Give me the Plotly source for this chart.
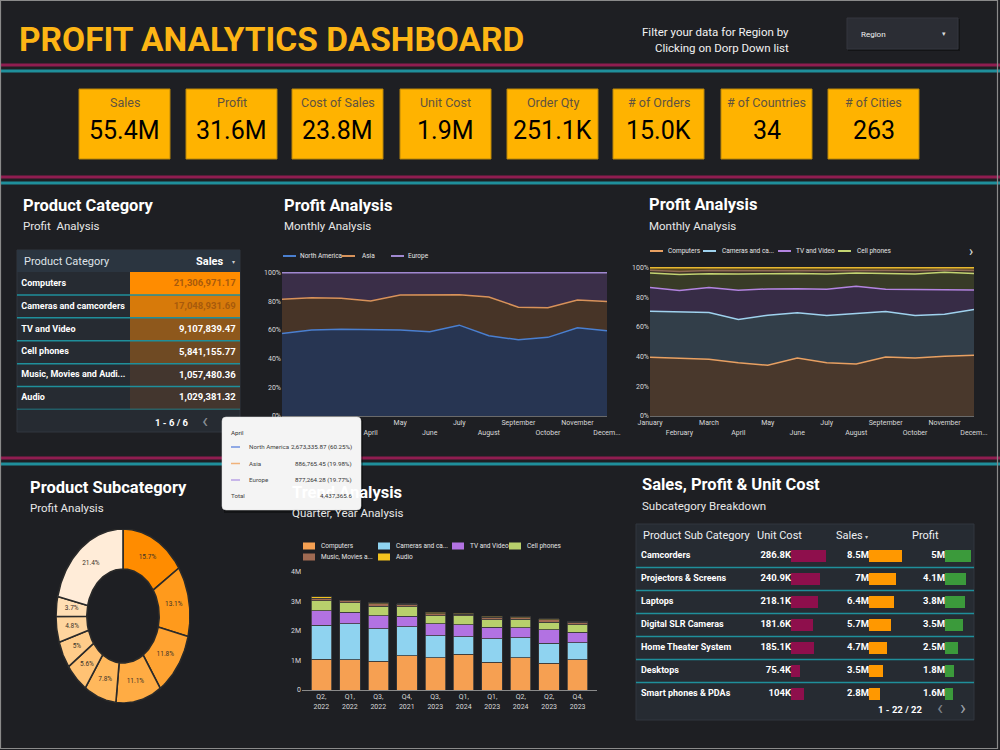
import math
import plotly.graph_objects as go

W, H = 1000, 750


def fx(x):
    return x / W


def fy(y):
    return 1 - y / H


BG = "#1e1f23"
FONT = "Roboto, Liberation Sans, Arial, sans-serif"
TEAL = "#1f8f9b"
MAGENTA = "#8f1d50"
TICK = "#d9d9d9"

# ---------------- DATA ----------------
kpi_labels = ["Sales", "Profit", "Cost of Sales", "Unit Cost", "Order Qty",
              "# of Orders", "# of Countries", "# of Cities"]
kpi_values = ["55.4M", "31.6M", "23.8M", "1.9M", "251.1K", "15.0K", "34", "263"]

category_names = ["Computers", "Cameras and camcorders", "TV and Video", "Cell phones",
                  "Music, Movies and Audio Books", "Audio"]
category_sales = [21306971.17, 17048931.69, 9107839.47, 5841155.77, 1057480.36, 1029381.32]

months = ["January", "February", "March", "April", "May", "June", "July",
          "August", "September", "October", "November", "December"]
month_tick_labels = ["January", "February", "March", "April", "May", "June", "July",
                     "August", "September", "October", "November", "Decem..."]

region_names = ["North America", "Asia", "Europe"]
north_america_share = [57.6, 60.0, 60.6, 60.25, 60.0, 58.8, 63.4, 56.0, 53.2, 54.9, 61.6, 59.5]
asia_share = [23.9, 22.6, 21.6, 19.98, 24.5, 25.9, 21.3, 27.1, 22.7, 20.6, 19.4, 20.4]
europe_share = [18.5, 17.4, 17.8, 19.77, 15.5, 15.3, 15.3, 16.9, 24.1, 24.5, 19.0, 20.1]

tooltip_month = "April"
tooltip_values = [2673335.87, 886765.45, 877264.28]

series_names = ["Computers", "Cameras and camcorders", "TV and Video", "Cell phones",
                "Music, Movies and Audio Books", "Audio"]
series_legend_labels = ["Computers", "Cameras and ca...", "TV and Video", "Cell phones",
                        "Music, Movies a...", "Audio"]
computers_share = [39.6, 38.7, 38.3, 36.0, 34.2, 39.1, 36.0, 35.1, 39.8, 39.1, 40.3, 40.9]
cameras_share = [31.1, 31.8, 31.5, 29.1, 33.8, 30.5, 31.8, 34.0, 30.7, 28.7, 28.4, 30.9]
tv_share = [15.9, 14.1, 16.8, 19.7, 17.7, 16.3, 17.7, 18.4, 15.0, 17.4, 16.5, 13.2]
cell_share = [9.8, 10.9, 9.4, 10.9, 10.3, 10.3, 10.2, 8.9, 10.7, 10.5, 11.7, 11.2]
music_share = [1.9, 2.0, 2.1, 2.2, 2.0, 1.8, 2.2, 1.7, 1.9, 2.2, 1.5, 1.9]
audio_share = [1.7, 2.5, 1.9, 2.1, 2.0, 2.0, 2.1, 1.9, 1.9, 2.1, 1.6, 1.9]

quarters = ["Q2, 2022", "Q1, 2022", "Q3, 2022", "Q4, 2021", "Q3, 2023",
            "Q1, 2024", "Q1, 2023", "Q2, 2024", "Q2, 2023", "Q4, 2023"]
trend_computers = [1.04, 1.03, 0.98, 1.16, 1.10, 1.21, 0.94, 1.10, 0.90, 1.03]
trend_cameras = [1.16, 1.21, 1.09, 0.99, 0.74, 0.59, 0.80, 0.67, 0.69, 0.57]
trend_tv = [0.49, 0.39, 0.45, 0.35, 0.40, 0.42, 0.39, 0.34, 0.45, 0.35]
trend_cell = [0.34, 0.33, 0.32, 0.33, 0.27, 0.29, 0.26, 0.29, 0.26, 0.27]
trend_music = [0.08, 0.06, 0.09, 0.07, 0.07, 0.05, 0.07, 0.05, 0.08, 0.07]
trend_audio = [0.05, 0.02, 0.03, 0.03, 0.05, 0.04, 0.04, 0.03, 0.04, 0.03]

donut_names = ["Camcorders", "Projectors & Screens", "Laptops", "Digital SLR Cameras",
               "Home Theater System", "Desktops", "Smart phones & PDAs", "Televisions",
               "Car Video", "Others"]
donut_share = [15.7, 13.1, 11.8, 11.1, 7.8, 5.6, 5.0, 4.8, 3.7, 21.4]

sub_names = ["Camcorders", "Projectors & Screens", "Laptops", "Digital SLR Cameras",
             "Home Theater System", "Desktops", "Smart phones & PDAs"]
sub_unit_cost = [286800, 240900, 218100, 181600, 185100, 75400, 104000]
sub_sales = [8.5e6, 7.0e6, 6.4e6, 5.7e6, 4.7e6, 3.5e6, 2.8e6]
sub_profit = [5.0e6, 4.1e6, 3.8e6, 3.5e6, 2.5e6, 1.8e6, 1.6e6]

# ---------------- STYLES ----------------
region_fill = ["rgba(40,55,85,0.95)", "rgba(74,54,40,0.95)", "rgba(60,47,75,0.95)"]
region_line = ["#4a7fd0", "#d8925a", "#a088d0"]
series_fill = ["rgba(76,58,45,0.95)", "rgba(52,64,76,0.95)", "rgba(57,45,73,0.95)",
               "rgba(58,61,40,0.95)", "rgba(62,48,40,0.95)", "rgba(92,74,26,0.95)"]
series_line = ["#e8a062", "#9fd2ee", "#b384e0", "#c3d472", "#8f6a55", "#e8b830"]
bar_colors = ["#f6a052", "#8fd3f0", "#b272e2", "#b8d06c", "#a06a52", "#f2c21e"]
donut_colors = ["#ff8c00", "#ff9a1c", "#ffa332", "#ffac44", "#ffb85c", "#ffc274",
                "#ffcc8a", "#ffd59e", "#ffdeb4", "#ffecd8"]

fig = go.Figure()
shapes = []
ann = []


def text(x, y, s, size, color="#ffffff", anchor="left", bold=False, family=FONT):
    ann.append(dict(x=fx(x), y=fy(y), xref="paper", yref="paper",
                    text=f"<b>{s}</b>" if bold else s, showarrow=False,
                    xanchor=anchor, yanchor="middle",
                    font=dict(size=size, color=color, family=family)))


def rect(x0, y0, x1, y1, fill, line=None, lw=0, layer="below"):
    shapes.append(dict(type="rect", xref="paper", yref="paper",
                       x0=fx(x0), x1=fx(x1), y0=fy(y0), y1=fy(y1),
                       fillcolor=fill, line=dict(color=line or fill, width=lw), layer=layer))


def hline(x0, x1, y, color, width, layer="below"):
    shapes.append(dict(type="line", xref="paper", yref="paper",
                       x0=fx(x0), x1=fx(x1), y0=fy(y), y1=fy(y),
                       line=dict(color=color, width=width), layer=layer))


# ---------------- HEADER ----------------
text(17, 39, "PROFIT ANALYTICS DASHBOARD", 33.5, "#fdb515", bold=True)
text(791, 32, "Filter your data for Region by", 11.5, "#f2f2f2", anchor="right")
text(791, 48, "Clicking on Dorp Down list", 11.5, "#f2f2f2", anchor="right")
rect(848, 19, 960, 51, "rgba(0,0,0,0.35)")
rect(847, 18, 958, 49, "#2b2d34", "#34363e", 1)
text(859, 34, "Region", 8, "#f0f0f0")
text(944, 34, "▾", 7, "#dddddd", anchor="center")

for ym, yt in [(65, 71), (177, 183), (458, 464)]:
    hline(0, W, ym, MAGENTA, 3)
    hline(0, W, yt, TEAL, 3)

# ---------------- KPI CARDS ----------------
card_x = [79, 186, 292, 400, 507, 613, 721, 828]
card_w = 91
for i, (lab, val) in enumerate(zip(kpi_labels, kpi_values)):
    x0 = card_x[i]
    rect(x0, 89, x0 + card_w, 159, "#ffb300", "#b8860b", 1)
    text(x0 + card_w / 2, 103, lab, 12.5, "#5e5240", anchor="center")
    text(x0 + card_w / 2, 130, val, 25, "#000000", anchor="center")

# ---------------- PANEL TITLES ----------------
panel_titles = [
    (21, 205, "Product Category", 226, "Profit  Analysis"),
    (282, 205, "Profit Analysis", 226, "Monthly Analysis"),
    (647, 204, "Profit Analysis", 226, "Monthly Analysis"),
    (28, 488, "Product Subcategory", 508, "Profit Analysis"),
    (290, 492, "Trend Analysis", 513, "Quarter, Year Analysis"),
    (640, 485, "Sales, Profit & Unit Cost", 506, "Subcategory Breakdown"),
]
for x, y1, t1, y2, t2 in panel_titles:
    text(x, y1, t1, 16.5, "#ffffff", bold=True)
    text(x, y2, t2, 11.5, "#e8e8e8")

# ---------------- LEFT TABLE (Product Category) ----------------
rect(17, 250, 240, 432, "#262b32", "#30363f", 1)
rect(17, 250, 240, 272, "#2b3540")
text(22, 261, "Product Category", 11, "#dfe3e8")
text(226, 261, "Sales", 11, "#ffffff", anchor="right", bold=True)
text(233, 262, "▾", 6, "#cccccc", anchor="center")

smin, smax = min(category_sales), max(category_sales)
fig.add_trace(go.Heatmap(
    z=[[v] for v in category_sales], x=[0], y=category_names,
    zmin=smin, zmax=smax, colorscale=[[0, "#43362e"], [0.4, "#8e581c"], [1, "#ff8c00"]],
    showscale=False, xaxis="x5", yaxis="y5", hoverinfo="skip"))
sales_txt = [f"{v:,.2f}" for v in category_sales]
sales_col = ["#a85a0c" if (v - smin) / (smax - smin) > 0.6 else "#ffffff" for v in category_sales]
fig.add_trace(go.Scatter(
    x=[0.46] * len(category_sales), y=category_names, mode="text", text=sales_txt,
    textposition="middle left", cliponaxis=False, hoverinfo="skip", showlegend=False,
    textfont=dict(size=9.5, color=sales_col, family=FONT, weight="bold"), xaxis="x5", yaxis="y5"))
cat_display = [n if len(n) <= 22 else n[:22] + "..." for n in category_names]
fig.add_trace(go.Scatter(
    x=[0.0] * len(category_names), y=category_names, mode="text", text=cat_display,
    textposition="middle right", cliponaxis=False, hoverinfo="skip", showlegend=False,
    textfont=dict(size=9, color="#ffffff", family=FONT, weight="bold"), xaxis="x6", yaxis="y5"))
for i in range(len(category_names)):
    shapes.append(dict(type="line", xref="paper", yref="y5", x0=fx(17), x1=fx(240),
                       y0=i + 0.5, y1=i + 0.5, line=dict(color=TEAL, width=1.5), layer="above"))
text(191, 422, f"1 - {len(category_names)} / {len(category_names)}", 9.5, "#ffffff", anchor="right", bold=True)
text(205, 421, "‹", 20, "#8a8f96", anchor="center")

# ---------------- MIDDLE AREA CHART (Regions) ----------------
for name, vals, fc, lc in zip(region_names, [north_america_share, asia_share, europe_share],
                              region_fill, region_line):
    fig.add_trace(go.Scatter(
        x=months, y=vals, name=name, mode="lines", stackgroup="reg", groupnorm="percent",
        fillcolor=fc, line=dict(color=lc, width=1.5), xaxis="x", yaxis="y", showlegend=False))

reg_leg_line_x = [283, 342, 391]
reg_leg_text_x = [298, 360, 406]
for i, name in enumerate(region_names):
    hline(reg_leg_line_x[i], reg_leg_line_x[i] + 13, 256, region_line[i], 2)
    text(reg_leg_text_x[i], 256, name, 6.5, "#e6e6e6")

# ---------------- RIGHT AREA CHART (Categories) ----------------
cat_shares = [computers_share, cameras_share, tv_share, cell_share, music_share, audio_share]
for name, vals, fc, lc in zip(series_names, cat_shares, series_fill, series_line):
    fig.add_trace(go.Scatter(
        x=months, y=vals, name=name, mode="lines", stackgroup="cat", groupnorm="percent",
        fillcolor=fc, line=dict(color=lc, width=1.5), xaxis="x2", yaxis="y2", showlegend=False))

cat_leg_line_x = [650, 703, 778, 838]
cat_leg_text_x = [666, 720, 794, 855]
for i in range(4):
    hline(cat_leg_line_x[i], cat_leg_line_x[i] + 13, 251, series_line[i], 2)
    text(cat_leg_text_x[i], 251, series_legend_labels[i], 6.5, "#e6e6e6")
text(971, 251, "›", 14, "#e0e0e0", anchor="center")

# ---------------- DONUT (Product Subcategory) ----------------
total = sum(donut_share)
cum = 0.0
lab_x, lab_y, lab_t = [], [], []
inner = 0.54


def ept(frac, r):
    a = 2 * math.pi * frac
    return r * math.sin(a), r * math.cos(a)


for i, (name, v) in enumerate(zip(donut_names, donut_share)):
    f0, f1 = cum / total, (cum + v) / total
    n = max(int(v * 3), 6)
    outer_pts = [ept(f0 + (f1 - f0) * k / n, 1.0) for k in range(n + 1)]
    inner_pts = [ept(f1 - (f1 - f0) * k / n, inner) for k in range(n + 1)]
    pts = outer_pts + inner_pts + [outer_pts[0]]
    fig.add_trace(go.Scatter(
        x=[p[0] for p in pts], y=[p[1] for p in pts], mode="lines", fill="toself",
        fillcolor=donut_colors[i], line=dict(color="#2a2a2a", width=1.6),
        xaxis="x4", yaxis="y4", name=name, hoverinfo="name", showlegend=False))
    mx, my = ept((f0 + f1) / 2, (1 + inner) / 2)
    lab_x.append(mx)
    lab_y.append(my)
    lab_t.append(f"{v:g}%")
    cum += v
fig.add_trace(go.Scatter(
    x=lab_x, y=lab_y, text=lab_t, mode="text", textposition="middle center",
    textfont=dict(size=6.5, color="#3a3128", family=FONT), xaxis="x4", yaxis="y4",
    hoverinfo="skip", showlegend=False, cliponaxis=False))

# ---------------- TREND STACKED BARS ----------------
trend_series = [trend_computers, trend_cameras, trend_tv, trend_cell, trend_music, trend_audio]
for i, vals in enumerate(trend_series):
    fig.add_trace(go.Bar(
        x=quarters, y=vals, name=series_names[i], marker=dict(color=bar_colors[i],
        line=dict(color="#3a3a3a", width=0.8)), width=0.72, xaxis="x3", yaxis="y3",
        showlegend=False))

trend_leg_x = [303, 378, 452, 509, 303, 378]
trend_leg_y = [546, 546, 546, 546, 557, 557]
for i, lab in enumerate(series_legend_labels):
    rect(trend_leg_x[i], trend_leg_y[i] - 3.5, trend_leg_x[i] + 12, trend_leg_y[i] + 3.5, bar_colors[i])
    text(trend_leg_x[i] + 16, trend_leg_y[i], lab, 6.5, "#e6e6e6")

# ---------------- RIGHT TABLE (Subcategory breakdown) ----------------
rect(636, 524, 974, 720, "#262b32", "#30363f", 1)
text(641, 535, "Product Sub Category", 11, "#eef0f3")
text(755, 535, "Unit Cost", 11, "#eef0f3")
text(834, 535, "Sales", 11, "#eef0f3")
text(866, 536, "▾", 6, "#cccccc", anchor="center")
text(910, 535, "Profit", 11, "#eef0f3")


def fmt_k(v):
    return f"{v / 1e3:.1f}".rstrip("0").rstrip(".") + "K"


def fmt_m(v):
    return f"{v / 1e6:.1f}".rstrip("0").rstrip(".") + "M"


col_specs = [("x7", sub_unit_cost, "#8e0f4c", fmt_k),
             ("x8", sub_sales, "#ff9800", fmt_m),
             ("x9", sub_profit, "#3b9a3b", fmt_m)]
for xa, vals, col, fmt in col_specs:
    fig.add_trace(go.Bar(
        x=vals, y=sub_names, orientation="h", width=0.52, marker=dict(color=col, line=dict(width=0)),
        xaxis=xa, yaxis="y7", showlegend=False, hoverinfo="x+y"))
    fig.add_trace(go.Scatter(
        x=[0] * len(vals), y=sub_names, mode="text", text=[fmt(v) for v in vals],
        textposition="middle left", cliponaxis=False, showlegend=False, hoverinfo="skip",
        textfont=dict(size=9.5, color="#ffffff", family=FONT, weight="bold"), xaxis=xa, yaxis="y7"))
fig.add_trace(go.Scatter(
    x=[0] * len(sub_names), y=sub_names, mode="text", text=sub_names,
    textposition="middle right", cliponaxis=False, showlegend=False, hoverinfo="skip",
    textfont=dict(size=9, color="#ffffff", family=FONT, weight="bold"), xaxis="x10", yaxis="y7"))
for i in range(len(sub_names) - 1):
    shapes.append(dict(type="line", xref="paper", yref="y7", x0=fx(636), x1=fx(974),
                       y0=i + 0.5, y1=i + 0.5, line=dict(color=TEAL, width=1.5), layer="below"))
text(925, 709, "1 - 22 / 22", 9.5, "#ffffff", anchor="right", bold=True)
text(940, 708, "‹", 20, "#7d828a", anchor="center")
text(963, 708, "›", 20, "#9aa0a8", anchor="center")

# ---------------- TOOLTIP (hover card on April) ----------------
tt_total = sum(tooltip_values)
rect(224, 420, 363, 513, "rgba(0,0,0,0.35)", layer="above")
shapes.append(dict(type="path", xref="paper", yref="paper", layer="above",
                   path=(f"M {fx(226)},{fy(417)} L {fx(357)},{fy(417)} "
                         f"Q {fx(361)},{fy(417)} {fx(361)},{fy(421)} L {fx(361)},{fy(506)} "
                         f"Q {fx(361)},{fy(510)} {fx(357)},{fy(510)} L {fx(226)},{fy(510)} "
                         f"Q {fx(222)},{fy(510)} {fx(222)},{fy(506)} L {fx(222)},{fy(421)} "
                         f"Q {fx(222)},{fy(417)} {fx(226)},{fy(417)} Z"),
                   fillcolor="#f4f4f4", line=dict(color="#e0e0e0", width=0.5)))
text(229, 433, tooltip_month, 6.2, "#333333")
tt_colors = ["#6f90e0", "#f0b27a", "#b9a2e6"]
for i, (name, v) in enumerate(zip(region_names, tooltip_values)):
    yy = 447 + 16.5 * i
    hline(231, 240, yy, tt_colors[i], 1.5, layer="above")
    text(247, yy, name, 6.2, "#444444")
    text(354, yy, f"{v:,.2f} ({v / tt_total * 100:.2f}%)", 6.2, "#333333", anchor="right")
text(229, 496, "Total", 6.2, "#444444")
text(354, 496, f"{tt_total:,.1f}", 6.2, "#333333", anchor="right")

# frame
shapes.append(dict(type="rect", xref="paper", yref="paper", x0=fx(0.5), x1=fx(997.5),
                   y0=fy(748.5), y1=fy(0.5), line=dict(color="#8a8a8a", width=1.2),
                   fillcolor="rgba(0,0,0,0)", layer="above"))

# ---------------- AXES ----------------
stag = [t if i % 2 == 0 else "<br>" + t for i, t in enumerate(month_tick_labels)]
tickfont = dict(size=7, color=TICK, family=FONT)


def area_x(x0, x1, y_anchor):
    return dict(domain=[fx(x0), fx(x1)], anchor=y_anchor, type="category", range=[0, 11],
                tickmode="array", tickvals=months, ticktext=stag, tickfont=tickfont,
                showgrid=False, zeroline=False, showline=True, linecolor="#6a6a6a",
                ticks="", tickangle=0, fixedrange=True, automargin=False)


def area_y(y_bottom, y_top, x_anchor):
    return dict(domain=[fy(y_bottom), fy(y_top)], anchor=x_anchor, range=[0, 100.5],
                tickmode="array", tickvals=[0, 20, 40, 60, 80, 100],
                ticktext=["0%", "20%", "40%", "60%", "80%", "100%"], tickfont=tickfont,
                showgrid=False, zeroline=False, ticks="", fixedrange=True, automargin=False)


def hid(**kw):
    d = dict(visible=False, showgrid=False, zeroline=False, fixedrange=True, automargin=False)
    d.update(kw)
    return d


layout_axes = dict(
    xaxis=area_x(282, 607, "y"), yaxis=area_y(416, 272, "x"),
    xaxis2=area_x(650, 974, "y2"), yaxis2=area_y(416, 267, "x2"),
    xaxis3=dict(domain=[fx(302), fx(597)], anchor="y3", type="category",
                categoryorder="array", categoryarray=quarters, range=[-0.68, 9.68],
                tickmode="array", tickvals=quarters,
                ticktext=[q.replace(", ", ",<br>") for q in quarters], tickfont=tickfont,
                showgrid=False, zeroline=False, showline=True, linecolor="#8a8a8a",
                ticks="", tickangle=0, fixedrange=True, automargin=False),
    yaxis3=dict(domain=[fy(690), fy(572)], anchor="x3", range=[0, 4],
                tickmode="array", tickvals=[0, 1, 2, 3, 4],
                ticktext=["0", "1M", "2M", "3M", "4M"], tickfont=tickfont,
                showgrid=False, zeroline=False, ticks="", fixedrange=True, automargin=False),
    xaxis4=hid(domain=[fx(56), fx(190)], anchor="y4", range=[-1, 1]),
    yaxis4=hid(domain=[fy(703), fy(529)], anchor="x4", range=[-1, 1]),
    xaxis5=hid(domain=[fx(130), fx(240)], anchor="y5", range=[-0.5, 0.5]),
    yaxis5=hid(domain=[fy(409.5), fy(272)], anchor="x5", type="category",
               categoryorder="array", categoryarray=category_names,
               range=[len(category_names) - 0.5, -0.5]),
    xaxis6=hid(domain=[fx(17), fx(130)], anchor="y5", range=[-0.04, 1]),
    xaxis7=hid(domain=[fx(791), fx(831)], anchor="y7", range=[0, 328000]),
    xaxis8=hid(domain=[fx(869), fx(909)], anchor="y7", range=[0, 10.31e6]),
    xaxis9=hid(domain=[fx(945), fx(975)], anchor="y7", range=[0, 5.77e6]),
    xaxis10=hid(domain=[fx(641), fx(760)], anchor="y7", range=[0, 1]),
    yaxis7=hid(domain=[fy(705.5), fy(544.5)], anchor="x7", type="category",
               categoryorder="array", categoryarray=sub_names,
               range=[len(sub_names) - 0.5, -0.5]),
)

fig.update_layout(
    template="none",
    width=W, height=H, margin=dict(l=0, r=0, t=0, b=0, pad=0), autosize=False,
    paper_bgcolor=BG, plot_bgcolor="rgba(0,0,0,0)",
    font=dict(family=FONT, color="#ffffff"),
    barmode="stack", showlegend=False, hovermode="closest",
    shapes=shapes, annotations=ann, **layout_axes)

fig.write_html("out.html")
